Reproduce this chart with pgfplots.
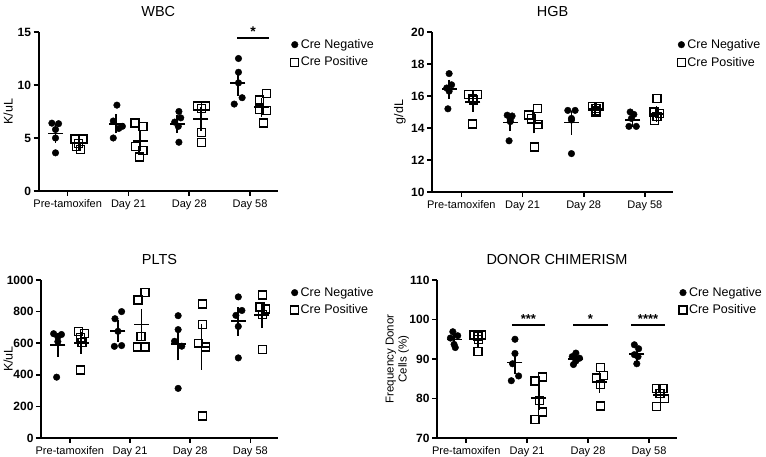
\documentclass[border=0pt]{standalone}
\usepackage{pgfplots}
\pgfplotsset{compat=1.18}
\usepackage{fontspec}
\setmainfont{Liberation Sans}
\pgfplotsset{
  panel/.style={
    scale only axis,
    axis x line=bottom, axis y line=left,
    axis line style={-, line width=2pt, black},
    xmin=-0.48, xmax=3.46,
    xtick={0,1,2,3}, xticklabels={Pre-tamoxifen,Day 21,Day 28,Day 58},
    tick align=outside, major tick length=5pt,
    tick style={line width=1.6pt, black},
    x tick label style={font=\fontsize{11}{13}\selectfont},
    y tick label style={font=\bfseries\fontsize{12}{14}\selectfont, xshift=1pt},
    /pgf/number format/assume math mode=true,
    /pgf/number format/1000 sep={},
    ylabel style={font=\fontsize{12.5}{14}\selectfont, anchor=center},
    title style={font=\fontsize{14.5}{17}\selectfont, yshift=6pt},
    legend style={draw=none, fill=none, anchor=north west,
      font=\fontsize{12.5}{15}\selectfont, row sep=3pt},
    legend cell align=left,
    clip=false,
  },
  neg/.style={only marks, black, mark=*, mark size=3.3pt, mark options={fill=black},
    legend image code/.code={\draw[mark repeat=2,mark phase=2,##1] plot coordinates {(0cm,0cm) (0.12cm,0cm) (0.24cm,0cm)};}},
  pos/.style={only marks, black, mark=square, mark size=4pt, mark options={fill=white, line width=1.4pt},
    legend image code/.code={\draw[mark repeat=2,mark phase=2,##1] plot coordinates {(0cm,0cm) (0.12cm,0cm) (0.24cm,0cm)};}},
  meanbar/.style={forget plot, only marks, black, mark=-, mark size=7.5pt, mark options={line width=1.8pt},
    error bars/.cd, y dir=both, y explicit,
    error bar style={line width=1.7pt, black},
    error mark options={line width=1.7pt, mark size=4pt, black}},
  sig/.style={forget plot, black, line width=2pt, mark=none},
}
\begin{document}
\begin{tikzpicture}
\useasboundingbox (0pt,0pt) rectangle (766pt,457pt);

% ---------------- WBC ----------------
\begin{axis}[panel, at={(38.5pt,266pt)}, anchor=south west, width=239.5pt, height=159pt,
  ymin=0, ymax=15, ytick={0,5,10,15}, ylabel={K/uL}, title={WBC},
  ylabel style={at={(axis description cs:-0.127,0.5)}},
  legend style={at={(axis description cs:1.04,0.98)}}]
\addplot[neg] coordinates {
 (-0.26,6.4) (-0.15,6.35) (-0.2,5.8) (-0.2,5.0) (-0.2,3.6)
 (0.81,8.1) (0.75,6.6) (0.9,6.1) (0.84,5.9) (0.75,5.0)
 (1.83,7.5) (1.86,6.9) (1.76,6.5) (1.82,6.1) (1.83,4.6)
 (2.81,12.5) (2.81,11.2) (2.81,10.2) (2.87,8.8) (2.74,8.2)};
\addlegendentry{Cre Negative}
\addplot[pos] coordinates {
 (0.12,4.9) (0.25,4.9) (0.18,4.5) (0.15,4.2) (0.21,3.9)
 (1.11,6.4) (1.24,6.1) (1.12,4.2) (1.24,3.8) (1.18,3.2)
 (2.14,8.0) (2.27,8.0) (2.2,7.8) (2.2,5.5) (2.2,4.6)
 (3.27,9.2) (3.16,8.6) (3.16,7.7) (3.27,7.6) (3.22,6.4)};
\addlegendentry{Cre Positive}
\addplot[meanbar] coordinates {
 (-0.2,5.43) +- (0,0.5) (0.8,6.34) +- (0,0.53) (1.8,6.32) +- (0,0.46) (2.8,10.18) +- (0,0.8)};
\addplot[meanbar] coordinates {
 (0.19,4.48) +- (0,0.19) (1.19,4.74) +- (0,0.62) (2.19,6.78) +- (0,0.72) (3.19,7.9) +- (0,0.5)};
\addplot[sig] coordinates {(2.79,14.4) (3.32,14.4)};
\node[font=\bfseries\fontsize{14}{16}\selectfont, anchor=south] at (axis cs:3.05,14.2) {*};
\end{axis}

% ---------------- HGB ----------------
\begin{axis}[panel, at={(432pt,265pt)}, anchor=south west, width=241pt, height=160pt,
  ymin=10, ymax=20, ytick={10,12,14,16,18,20}, ylabel={g/dL}, title={HGB},
  ylabel style={at={(axis description cs:-0.133,0.5)}},
  legend style={at={(axis description cs:1.005,0.98)}}]
\addplot[neg] coordinates {
 (-0.2,17.4) (-0.16,16.7) (-0.24,16.5) (-0.2,16.3) (-0.22,15.2)
 (0.75,14.8) (0.83,14.75) (0.8,14.55) (0.8,14.4) (0.78,13.2)
 (1.74,15.1) (1.86,15.1) (1.8,14.6) (1.8,14.5) (1.8,12.4)
 (2.76,15.0) (2.82,14.85) (2.78,14.6) (2.74,14.1) (2.86,14.1)};
\addlegendentry{Cre Negative}
\addplot[pos] coordinates {
 (0.12,16.1) (0.26,16.1) (0.18,15.85) (0.2,15.75) (0.18,14.25)
 (1.1,14.8) (1.24,15.2) (1.15,14.6) (1.25,14.2) (1.2,12.8)
 (2.14,15.35) (2.25,15.35) (2.2,15.0) (2.2,15.2) (2.2,15.1)
 (3.2,15.85) (3.15,15.0) (3.24,14.9) (3.2,14.7) (3.16,14.45)};
\addlegendentry{Cre Positive}
\addplot[meanbar] coordinates {
 (-0.2,16.42) +- (0,0.35) (0.8,14.34) +- (0,0.29) (1.8,14.34) +- (0,0.5) (2.8,14.52) +- (0,0.18)};
\addplot[meanbar] coordinates {
 (0.19,15.62) +- (0,0.35) (1.19,14.32) +- (0,0.4) (2.19,15.2) +- (0,0.07) (3.19,14.88) +- (0,0.24)};
\end{axis}

% ---------------- PLTS ----------------
\begin{axis}[panel, at={(41pt,19pt)}, anchor=south west, width=237pt, height=158pt,
  ymin=0, ymax=1000, ytick={0,200,400,600,800,1000}, ylabel={K/uL}, title={PLTS},
  ylabel style={at={(axis description cs:-0.139,0.5)}},
  legend style={at={(axis description cs:1.04,0.98)}}]
\addplot[neg] coordinates {
 (-0.27,660) (-0.14,655) (-0.2,640) (-0.2,610) (-0.22,385)
 (0.75,755) (0.86,800) (0.8,675) (0.74,580) (0.86,585)
 (1.8,774) (1.8,686) (1.74,612) (1.86,581) (1.8,314)
 (2.8,893) (2.86,807) (2.76,776) (2.8,706) (2.8,507)};
\addlegendentry{Cre Negative}
\addplot[pos] coordinates {
 (0.14,675) (0.24,660) (0.18,635) (0.2,605) (0.18,430)
 (1.13,874) (1.25,920) (1.18,644) (1.12,577) (1.25,577)
 (2.2,849) (2.2,717) (2.14,597) (2.25,577) (2.2,140)
 (3.2,906) (3.16,828) (3.25,816) (3.2,780) (3.2,560)};
\addlegendentry{Cre Positive}
\addplot[meanbar] coordinates {
 (-0.2,590) +- (0,52) (0.8,679) +- (0,44) (1.8,593) +- (0,77) (2.8,738) +- (0,65)};
\addplot[meanbar] coordinates {
 (0.19,601) +- (0,44) (1.19,718) +- (0,74) (2.19,576) +- (0,119) (3.19,778) +- (0,58)};
\end{axis}

% ---------------- DONOR CHIMERISM ----------------
\begin{axis}[panel, at={(437pt,19pt)}, anchor=south west, width=240pt, height=158pt,
  ymin=70, ymax=110, ytick={70,80,90,100,110}, ylabel={Frequency Donor\\Cells (\%)},
  ylabel style={align=center, font=\fontsize{11.5}{13}\selectfont, at={(axis description cs:-0.165,0.5)}},
  title={DONOR CHIMERISM},
  legend style={at={(axis description cs:0.995,0.98)}}]
\addplot[neg] coordinates {
 (-0.22,96.9) (-0.14,95.9) (-0.26,95.3) (-0.2,93.7) (-0.18,92.9)
 (0.8,95.0) (0.8,91.4) (0.76,88.8) (0.86,85.7) (0.74,84.5)
 (1.8,91.5) (1.74,90.6) (1.86,90.2) (1.8,89.5) (1.76,88.6)
 (2.76,93.6) (2.83,92.6) (2.76,91.1) (2.82,90.6) (2.8,88.8)};
\addlegendentry{Cre Negative}
\addplot[pos] coordinates {
 (0.13,96.1) (0.25,96.1) (0.19,95.7) (0.2,95.0) (0.19,91.9)
 (1.13,84.4) (1.25,85.4) (1.2,79.5) (1.25,76.6) (1.13,74.7)
 (2.2,87.8) (2.25,85.8) (2.14,85.2) (2.2,83.6) (2.2,78.1)
 (3.12,82.5) (3.23,82.5) (3.18,81.3) (3.25,80.0) (3.12,77.9)};
\addlegendentry{Cre Positive}
\addplot[meanbar] coordinates {
 (-0.2,94.94) +- (0,0.73) (0.8,89.1) +- (0,2.0) (1.8,90.08) +- (0,0.5) (2.8,91.2) +- (0,0.85)};
\addplot[meanbar] coordinates {
 (0.19,94.96) +- (0,0.79) (1.19,80.1) +- (0,2.1) (2.19,84.1) +- (0,1.6) (3.19,80.8) +- (0,0.85)};
\addplot[sig] coordinates {(0.75,98.5) (1.29,98.5)};
\addplot[sig] coordinates {(1.76,98.5) (2.32,98.5)};
\addplot[sig] coordinates {(2.71,98.5) (3.26,98.5)};
\node[font=\bfseries\fontsize{13}{15}\selectfont, anchor=south] at (axis cs:1.02,98.0) {***};
\node[font=\bfseries\fontsize{13}{15}\selectfont, anchor=south] at (axis cs:2.04,98.0) {*};
\node[font=\bfseries\fontsize{13}{15}\selectfont, anchor=south] at (axis cs:2.985,98.0) {****};
\end{axis}
\end{tikzpicture}
\end{document}
